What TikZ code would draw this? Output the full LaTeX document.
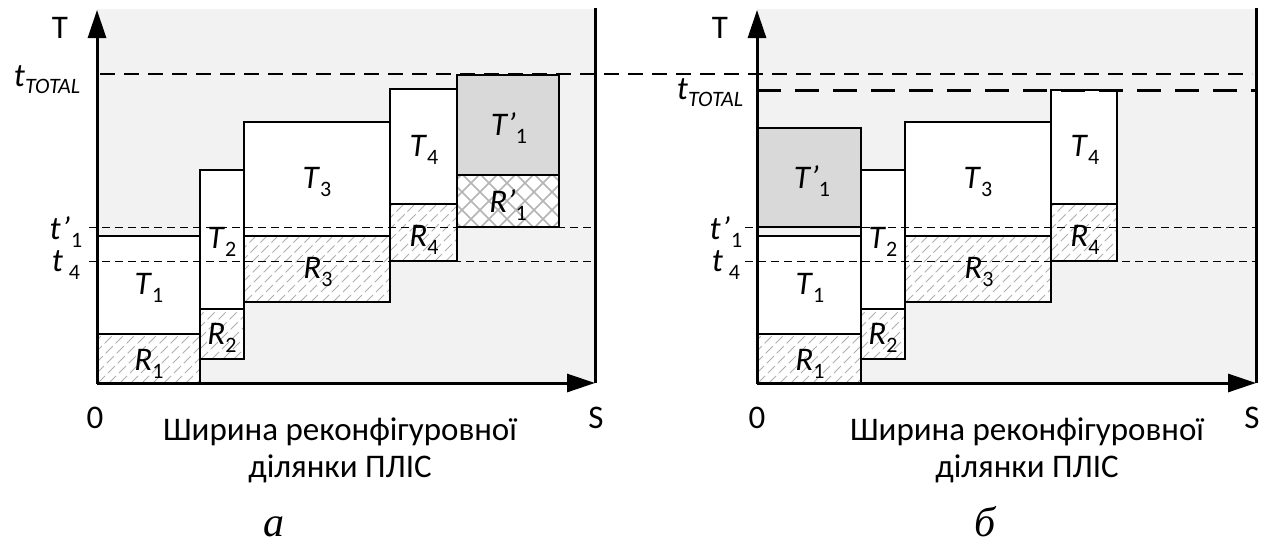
\documentclass[tikz,border=0pt]{standalone}
\usepackage{fontspec}
\setmainfont{Carlito}
\newfontfamily\capfont{Liberation Serif}
\usetikzlibrary{arrows.meta}

\definecolor{panelgrey}{HTML}{F2F2F2}
\definecolor{movedgrey}{HTML}{D9D9D9}
\definecolor{hatchgrey}{HTML}{B0B0B0}
\definecolor{crossgrey}{HTML}{B4B4B4}

% subscript used in all labels
\newcommand\sub[1]{\raisebox{-0.22em}{\fontsize{22}{22}\selectfont #1}}
\newcommand\lab[2]{\textit{#1}\sub{#2}}

% diagonal hatching of a rectangle: x1, y1 (top), x2, y2 (bottom)
\newcommand\hatchrect[4]{%
  \begin{scope}
    \clip (#1,#2) rectangle (#3,#4);
    \foreach \k in {-120,-109,...,170}
      \draw[hatchline] (#1+\k,#4) -- ++(140,-140);
  \end{scope}}
% cross hatching of a rectangle
\newcommand\crossrect[4]{%
  \begin{scope}
    \clip (#1,#2) rectangle (#3,#4);
    \foreach \k in {-120,-102,...,170} {
      \draw[crossline] (#1+\k,#4) -- ++(140,-140);
      \draw[crossline] (#1+\k,#2) -- ++(140,140);
    }
  \end{scope}}

\tikzset{
  panelbg/.style={fill=panelgrey, draw=none},
  axisline/.style={line width=3pt, -{Triangle[length=28pt,width=18pt]}},
  borderline/.style={line width=3pt},
  taskbox/.style={draw, line width=1.8pt},
  hatchline/.style={draw=hatchgrey, line width=0.9pt, dash pattern=on 10pt off 4pt},
  crossline/.style={draw=crossgrey, line width=1.6pt},
  thindash/.style={line width=1pt, dash pattern=on 8pt off 5pt},
  totaldash/.style={line width=2pt, dash pattern=on 15pt off 9pt},
  totalthick/.style={line width=3pt, dash pattern=on 24pt off 14pt},
  txt/.style={inner sep=0pt, font=\fontsize{33}{38}\selectfont},
  captxt/.style={inner sep=0pt, font=\capfont\itshape\fontsize{42}{44}\selectfont},
}

\begin{document}
\begin{tikzpicture}[x=1pt, y=-1pt]
\useasboundingbox (0,0) rectangle (1275,544);

% ---------- panel a ----------
\fill[panelbg] (97,9) rectangle (595,383);
% T1 / R1
\fill[white] (97,236) rectangle (200,383);
\hatchrect{97}{334}{200}{383}
\draw[taskbox] (97,236) rectangle (200,334);
\draw[taskbox] (97,334) rectangle (200,383);
% T2 / R2
\fill[white] (200,170) rectangle (244,359);
\hatchrect{200}{309}{244}{359}
\draw[taskbox] (200,170) rectangle (244,309);
\draw[taskbox] (200,309) rectangle (244,359);
% T3 / R3
\fill[white] (244,122) rectangle (390,302);
\hatchrect{244}{236}{390}{302}
\draw[taskbox] (244,122) rectangle (390,236);
\draw[taskbox] (244,236) rectangle (390,302);
% T4 / R4
\fill[white] (390,89) rectangle (457,261);
\hatchrect{390}{204}{457}{261}
\draw[taskbox] (390,89) rectangle (457,204);
\draw[taskbox] (390,204) rectangle (457,261);
% T'1 / R'1
\fill[movedgrey] (457,75) rectangle (559,175);
\fill[white] (457,175) rectangle (559,227);
\crossrect{457}{175}{559}{227}
\draw[taskbox] (457,75) rectangle (559,175);
\draw[taskbox] (457,175) rectangle (559,227);

\node[txt] (aT1) at (149,288) {\lab{T}{1}};
\node[txt] (aR1) at (149,364) {\lab{R}{1}};
\node[txt] (aT2) at (222,242) {\lab{T}{2}};
\node[txt] (aR2) at (222,338) {\lab{R}{2}};
\node[txt] (aT3) at (317,182) {\lab{T}{3}};
\node[txt] (aR3) at (318,272) {\lab{R}{3}};
\node[txt] (aT4) at (424,150) {\lab{T}{4}};
\node[txt] (aR4) at (424,240) {\lab{R}{4}};
\node[txt] (aTp) at (509,128) {\textit{T’}\sub{1}};
\node[txt] (aRp) at (508,205) {\textit{R’}\sub{1}};

% level lines
\draw[thindash] (89,227) -- (595,227);
\draw[thindash] (89,261) -- (595,261);

% axes
\draw[axisline] (97,383) -- (97,10);
\draw[axisline] (97,383) -- (595,383);
\draw[borderline] (595,8) -- (595,383);

% ---------- panel b ----------
\fill[panelbg] (757,9) rectangle (1256,383);
% T'1 above T1
\fill[movedgrey] (757,128) rectangle (861,227);
\draw[taskbox] (757,128) rectangle (861,227);
% T1 / R1
\fill[white] (757,236) rectangle (861,383);
\hatchrect{757}{334}{861}{383}
\draw[taskbox] (757,236) rectangle (861,334);
\draw[taskbox] (757,334) rectangle (861,383);
% T2 / R2
\fill[white] (861,170) rectangle (905,359);
\hatchrect{861}{309}{905}{359}
\draw[taskbox] (861,170) rectangle (905,309);
\draw[taskbox] (861,309) rectangle (905,359);
% T3 / R3
\fill[white] (905,122) rectangle (1051,302);
\hatchrect{905}{236}{1051}{302}
\draw[taskbox] (905,122) rectangle (1051,236);
\draw[taskbox] (905,236) rectangle (1051,302);
% T4 / R4
\fill[white] (1051,90) rectangle (1117,261);
\hatchrect{1051}{204}{1117}{261}
\draw[taskbox] (1051,90) rectangle (1117,204);
\draw[taskbox] (1051,204) rectangle (1117,261);

\node[txt] (bTp) at (812,181) {\textit{T’}\sub{1}};
\node[txt] (bT1) at (810,288) {\lab{T}{1}};
\node[txt] (bR1) at (810,364) {\lab{R}{1}};
\node[txt] (bT2) at (883,242) {\lab{T}{2}};
\node[txt] (bR2) at (883,338) {\lab{R}{2}};
\node[txt] (bT3) at (978,182) {\lab{T}{3}};
\node[txt] (bR3) at (979,272) {\lab{R}{3}};
\node[txt] (bT4) at (1085,150) {\lab{T}{4}};
\node[txt] (bR4) at (1085,240) {\lab{R}{4}};

\draw[thindash] (745,227) -- (1256,227);
\draw[thindash] (745,261) -- (1256,261);
\draw[totalthick] (757,90) -- (1256,90);

\draw[axisline] (757,383) -- (757,10);
\draw[axisline] (757,383) -- (1256,383);
\draw[borderline] (1256,8) -- (1256,383);

% common t_TOTAL level of panel a, carried across panel b
\draw[totaldash] (100,74) -- (1252,74);

% ---------- axis labels ----------
\node[txt] (aT) at (60,28) {T};
\node[txt] (aTotal) at (47,80) {\textit{t}\sub{\itshape TOTAL}};
\node[txt] (atp) at (66,232) {\textit{t’}\kern1pt\sub{1}};
\node[txt] (at4) at (66,265) {\textit{t}\kern6pt\sub{4}};
\node[txt] (a0) at (95,418) {0};
\node[txt] (aS) at (596,418) {S};
\node[txt, anchor=base] (acap1) at (340,440) {Ширина реконфігуровної};
\node[txt, anchor=base] (acap2) at (340,477) {ділянки ПЛІС};
\node[captxt, anchor=base] (atag) at (274,536) {а};

\node[txt] (bT) at (720,28) {T};
\node[txt] (bTotal) at (710,93) {\textit{t}\sub{\itshape TOTAL}};
\node[txt] (btp) at (726,232) {\textit{t’}\kern1pt\sub{1}};
\node[txt] (bt4) at (726,265) {\textit{t}\kern6pt\sub{4}};
\node[txt] (b0) at (757,418) {0};
\node[txt] (bS) at (1252,418) {S};
\node[txt, anchor=base] (bcap1) at (1027,440) {Ширина реконфігуровної};
\node[txt, anchor=base] (bcap2) at (1027,477) {ділянки ПЛІС};
\node[captxt, anchor=base] (btag) at (985,536) {б};
\end{tikzpicture}
\end{document}
